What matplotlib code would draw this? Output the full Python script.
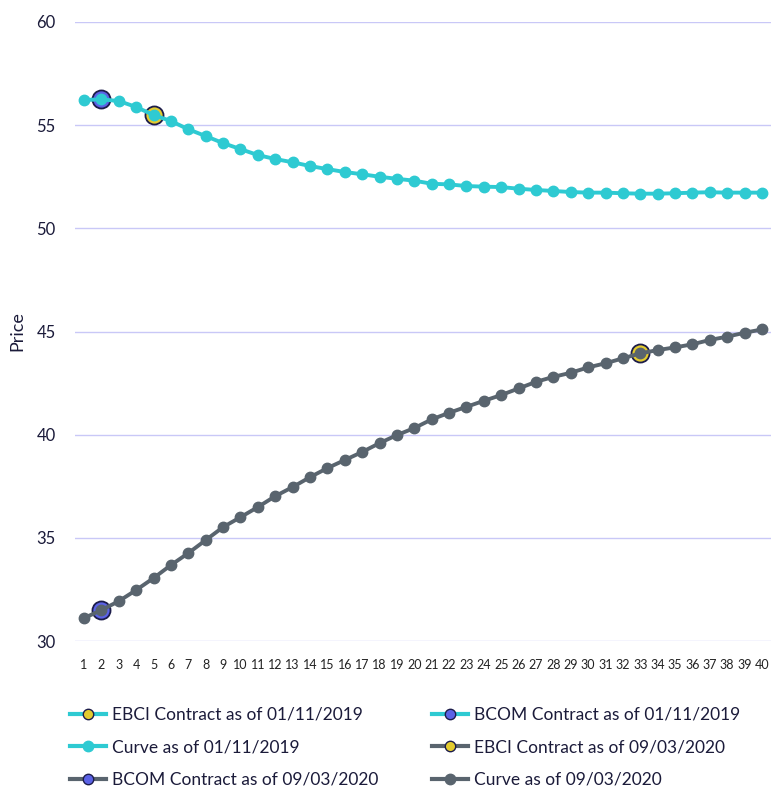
import matplotlib.pyplot as plt
from matplotlib.lines import Line2D
import numpy as np

plt.rcParams['font.family'] = ['Lato', 'DejaVu Sans']

# contract months 1..40
months = np.arange(1, 41)

curve_2019 = [56.22, 56.25, 56.17, 55.88, 55.49, 55.20, 54.80, 54.47, 54.13, 53.84,
              53.55, 53.36, 53.20, 53.02, 52.87, 52.73, 52.62, 52.50, 52.40, 52.31,
              52.16, 52.13, 52.05, 52.02, 52.00, 51.92, 51.86, 51.81, 51.76, 51.73,
              51.73, 51.70, 51.68, 51.68, 51.70, 51.73, 51.75, 51.73, 51.73, 51.73]

curve_2020 = [31.11, 31.50, 31.93, 32.47, 33.05, 33.68, 34.26, 34.89, 35.52, 36.00,
              36.49, 37.02, 37.46, 37.94, 38.38, 38.77, 39.16, 39.59, 39.98, 40.32,
              40.74, 41.06, 41.35, 41.64, 41.92, 42.24, 42.56, 42.80, 43.00, 43.26,
              43.46, 43.70, 43.94, 44.10, 44.23, 44.38, 44.59, 44.75, 44.94, 45.10]

# contract positions (month index) on each curve
ebci_2019, bcom_2019 = 5, 2
ebci_2020, bcom_2020 = 33, 2

cyan = '#2ECAD2'
grey = '#59646E'
yellow = '#E3CB2E'
blue = '#5B62E6'
edge = '#1C1C4A'
navy = '#1B1B3A'
grid_col = '#C9C8F7'

fig = plt.figure(figsize=(7.71, 7.92), dpi=100)
ax = fig.add_axes([75 / 771, 1 - 641 / 792, 1 - 75 / 771, (641 - 22) / 792])

# contract markers first so curve dots sit on top
ax.plot(ebci_2019, curve_2019[ebci_2019 - 1], 'o', ms=13, mfc=yellow, mec=edge, mew=1.3, zorder=3)
ax.plot(bcom_2019, curve_2019[bcom_2019 - 1], 'o', ms=13, mfc=blue, mec=edge, mew=1.3, zorder=3)
ax.plot(ebci_2020, curve_2020[ebci_2020 - 1], 'o', ms=13, mfc=yellow, mec=edge, mew=1.3, zorder=3)
ax.plot(bcom_2020, curve_2020[bcom_2020 - 1], 'o', ms=13, mfc=blue, mec=edge, mew=1.3, zorder=3)

ax.plot(months, curve_2019, '-o', color=cyan, lw=2.8, ms=7.5, zorder=4)
ax.plot(months, curve_2020, '-o', color=grey, lw=2.8, ms=7.5, zorder=4)

ax.set_xlim(0.48, 40.52)
ax.set_ylim(30, 60)
ax.set_yticks([30, 35, 40, 45, 50, 55, 60])
ax.set_xticks(months)
ax.grid(axis='y', color=grid_col, lw=1)
ax.set_axisbelow(True)
for s in ax.spines.values():
    s.set_visible(False)
ax.tick_params(axis='both', length=0)
ax.tick_params(axis='x', labelsize=9, pad=13, labelcolor='#222222')
ax.tick_params(axis='y', labelsize=12, pad=14, labelcolor=navy)
ax.set_ylabel('Price', fontsize=13, color=navy)
ax.yaxis.set_label_coords(-0.072, 0.5)


def handle(line_col, face):
    if face is None:
        return Line2D([], [], color=line_col, lw=3, marker='o', ms=7.5, mfc=line_col, mec=line_col)
    return Line2D([], [], color=line_col, lw=3, marker='o', ms=7.5, mfc=face, mec=edge, mew=1)


# ncol=2 fills by column, so order handles column-wise
handles = [handle(cyan, yellow), handle(cyan, None), handle(grey, blue),
           handle(cyan, blue), handle(grey, yellow), handle(grey, None)]
labels = ['EBCI Contract as of 01/11/2019', 'Curve as of 01/11/2019', 'BCOM Contract as of 09/03/2020',
          'BCOM Contract as of 01/11/2019', 'EBCI Contract as of 09/03/2020', 'Curve as of 09/03/2020']
leg = fig.legend(handles, labels, ncol=2, loc='upper left', bbox_to_anchor=(70 / 771, 1 - 707 / 792),
                 frameon=False, fontsize=12.5, handlelength=2.1, handletextpad=0.3,
                 columnspacing=3.1, labelspacing=0.95, borderaxespad=0, borderpad=0)
for t in leg.get_texts():
    t.set_color(navy)

fig.savefig('out.png', dpi=100)
